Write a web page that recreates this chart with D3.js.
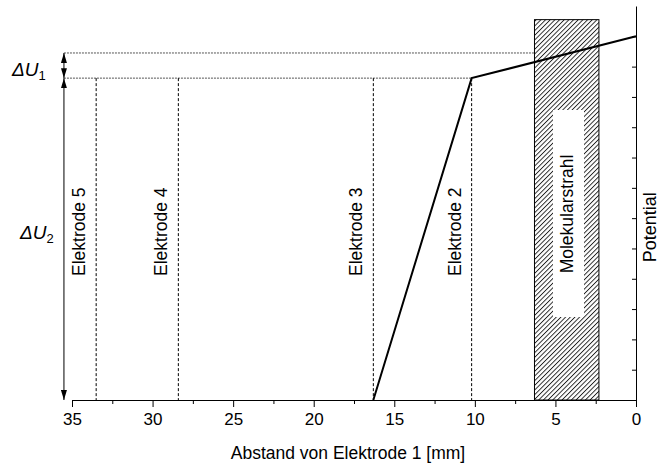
<!DOCTYPE html>
<html><head><meta charset="utf-8">
<script src="https://cdn.jsdelivr.net/npm/d3@7"></script>
<style>
body{margin:0;background:#fff}
text{font-family:"Liberation Sans",Arial,sans-serif;fill:#000}
</style>
</head><body>
<svg id="chart" width="659" height="472"></svg>
<script>
// Distance axis (mm from electrode 1) and potential levels
const distanceTicks = [35, 30, 25, 20, 15, 10, 5, 0];
const minorTicks = [32.5, 27.5, 22.5, 17.5, 12.5, 7.5, 2.5];
const potentialTicks = [1, 2, 3, 4, 5, 6, 7, 8, 9, 10, 11, 12];

// Potential along the beam path
const pathDistance = [16.3, 10.2, 0];
const pathPotential = [0, 10.62, 12.0];

// Electrode positions
const electrodeNames = ["Elektrode 5", "Elektrode 4", "Elektrode 3", "Elektrode 2"];
const electrodeDistance = [33.5, 28.4, 16.3, 10.2];

// Molecular beam band
const beamRange = [6.3, 2.3];
const beamTop = 12.55;
const beamLabel = "Molekularstrahl";

// Potential differences
const levelLow = 0, levelMid = 10.62, levelHigh = 11.45;
const arrowDistance = 35.5;

const svg = d3.select("#chart");
const x = d3.scaleLinear().domain([35, 0]).range([72, 636]);
const y = d3.scaleLinear().domain([0, 13]).range([400, 6]);

const defs = svg.append("defs");
const hatch = defs.append("pattern")
  .attr("id", "hatch").attr("patternUnits", "userSpaceOnUse")
  .attr("width", 3.3).attr("height", 3.3)
  .attr("patternTransform", "rotate(45)");
hatch.append("rect").attr("width", 3.3).attr("height", 3.3).attr("fill", "#fff");
hatch.append("line").attr("x1", 0.5).attr("y1", 0).attr("x2", 0.5).attr("y2", 3.3)
  .attr("stroke", "#000").attr("stroke-width", 0.8);

defs.append("marker").attr("id", "arrow")
  .attr("markerUnits", "userSpaceOnUse")
  .attr("markerWidth", 10).attr("markerHeight", 6)
  .attr("refX", 10).attr("refY", 3)
  .attr("orient", "auto-start-reverse")
  .append("path").attr("d", "M0,0L10,3L0,6Z").attr("fill", "#000");

// Horizontal reference levels
svg.append("line")
  .attr("x1", x(arrowDistance)).attr("x2", x(pathDistance[1]))
  .attr("y1", y(levelMid)).attr("y2", y(levelMid))
  .attr("stroke", "#555").attr("stroke-width", 1).attr("stroke-dasharray", "2,1");
svg.append("line")
  .attr("x1", x(arrowDistance)).attr("x2", x(beamRange[0]) + 2)
  .attr("y1", y(levelHigh)).attr("y2", y(levelHigh))
  .attr("stroke", "#555").attr("stroke-width", 1).attr("stroke-dasharray", "2,1");

// Electrodes
const el = svg.append("g").selectAll("g").data(electrodeDistance).join("g");
el.append("line")
  .attr("x1", d => x(d)).attr("x2", d => x(d))
  .attr("y1", y(levelMid)).attr("y2", y(0))
  .attr("stroke", "#000").attr("stroke-width", 1).attr("stroke-dasharray", "3,2");
el.append("text")
  .attr("transform", d => `translate(${x(d) - 11},276) rotate(-90)`)
  .attr("font-size", 17.5)
  .text((d, i) => electrodeNames[i]);

// Molecular beam
svg.append("rect")
  .attr("x", x(beamRange[0])).attr("width", x(beamRange[1]) - x(beamRange[0]))
  .attr("y", y(beamTop)).attr("height", y(0) - y(beamTop))
  .attr("fill", "url(#hatch)").attr("stroke", "#000").attr("stroke-width", 1);
svg.append("rect")
  .attr("x", 553).attr("width", 31).attr("y", 110).attr("height", 207)
  .attr("fill", "#fff");
svg.append("text")
  .attr("transform", `translate(${(x(beamRange[0]) + x(beamRange[1])) / 2 + 6},214) rotate(-90)`)
  .attr("text-anchor", "middle").attr("font-size", 17.5)
  .text(beamLabel);

// Potential curve
svg.append("path")
  .datum(pathDistance.map((d, i) => [d, pathPotential[i]]))
  .attr("d", d3.line().x(d => x(d[0])).y(d => y(d[1])))
  .attr("fill", "none").attr("stroke", "#000").attr("stroke-width", 2);

// Bottom axis
const bottom = svg.append("g").attr("transform", `translate(0,${y(0)})`)
  .call(d3.axisBottom(x).tickValues(distanceTicks).tickSize(7).tickSizeOuter(0).tickPadding(6));
bottom.selectAll("text").attr("font-size", 17).attr("font-family", null);
bottom.select(".domain").attr("stroke-width", 1);
const minor = svg.append("g").attr("transform", `translate(0,${y(0)})`)
  .call(d3.axisBottom(x).tickValues(minorTicks).tickSize(4).tickFormat(""));
minor.select(".domain").remove();

// Right potential axis
const right = svg.append("g").attr("transform", `translate(${x(0)},0)`)
  .call(d3.axisLeft(y).tickValues(potentialTicks).tickSize(4).tickSizeOuter(0).tickFormat(""));

svg.append("text")
  .attr("x", (x(35) + x(0)) / 2 - 6).attr("y", 459)
  .attr("text-anchor", "middle").attr("font-size", 17.5)
  .text("Abstand von Elektrode 1 [mm]");
svg.append("text")
  .attr("transform", `translate(656,${y(5.7)}) rotate(-90)`)
  .attr("text-anchor", "middle").attr("font-size", 18)
  .text("Potential");

// Potential difference arrows
svg.append("line")
  .attr("x1", x(arrowDistance)).attr("x2", x(arrowDistance))
  .attr("y1", y(levelHigh)).attr("y2", y(levelMid))
  .attr("stroke", "#000").attr("stroke-width", 1)
  .attr("marker-start", "url(#arrow)").attr("marker-end", "url(#arrow)");
svg.append("line")
  .attr("x1", x(arrowDistance)).attr("x2", x(arrowDistance))
  .attr("y1", y(levelMid)).attr("y2", y(levelLow))
  .attr("stroke", "#000").attr("stroke-width", 1)
  .attr("marker-start", "url(#arrow)").attr("marker-end", "url(#arrow)");

function deltaLabel(px, py, sub) {
  const t = svg.append("text").attr("x", px).attr("y", py)
    .attr("font-size", 19).attr("font-style", "italic");
  t.append("tspan").text("ΔU");
  t.append("tspan").attr("dy", 4).attr("font-size", 13).attr("font-style", "normal").text(sub);
}
deltaLabel(12, 76, "1");
deltaLabel(20, 239, "2");
</script>
</body></html>
